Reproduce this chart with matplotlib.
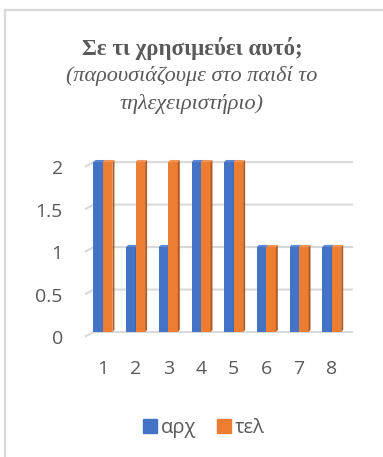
import matplotlib.pyplot as plt
import matplotlib.transforms as mtransforms
from matplotlib.patches import Polygon
from matplotlib.lines import Line2D

categories = ['1', '2', '3', '4', '5', '6', '7', '8']
arx = [2, 1, 1, 2, 2, 1, 1, 1]
tel = [2, 2, 2, 2, 2, 1, 1, 1]
yticks = [0, 0.5, 1, 1.5, 2]
series_names = ['αρχ', 'τελ']

BLUE = '#4472C4'
ORANGE = '#ED7D31'
SIDE = {BLUE: '#2F528F', ORANGE: '#AE5A21'}
TOP = {BLUE: '#5B86D3', ORANGE: '#F19458'}
GRID = '#D9D9D9'
TEXT = '#595959'

W, H = 383, 457
fig = plt.figure(figsize=(W / 100, H / 100), dpi=100)

# chart frame (left and top edges of the Excel chart area)
fig.add_artist(Line2D([5 / W, 5 / W], [0, 1 - 10 / H], color=GRID, lw=1.6))
fig.add_artist(Line2D([5 / W, 1], [1 - 10 / H, 1 - 10 / H], color=GRID, lw=1.6))

fig.text(192 / W, 1 - 48 / H, 'Σε τι χρησιμεύει αυτό;', ha='center', va='center',
         fontsize=16.5, fontweight='bold', color=TEXT, family='Liberation Serif')
fig.text(192 / W, 1 - 76 / H, '(παρουσιάζουμε στο παιδί το', ha='center', va='center',
         fontsize=16, style='italic', color=TEXT, family='Liberation Serif')
fig.text(192 / W, 1 - 104 / H, 'τηλεχειριστήριο)', ha='center', va='center',
         fontsize=16, style='italic', color=TEXT, family='Liberation Serif')

left, right, bottom, top = 85, 353, 332, 157
ax = fig.add_axes([left / W, 1 - bottom / H, (right - left) / W, (bottom - top) / H])
ax.set_xlim(-0.55, 7.65)
ax.set_ylim(0, 2.06)
for s in ax.spines.values():
    s.set_visible(False)

# 3D-ish gridlines: short diagonal then flat back line
d = 0.055
x_back = -0.28
for y in yticks:
    ax.plot([-0.55, x_back, 7.65], [y - d, y, y], color=GRID, lw=1.5, zorder=0,
            clip_on=False, solid_capstyle='butt')

bw = 0.29
dx, dy = 0.06, 0.025
x = list(range(len(categories)))


def draw_series(vals, offset, color):
    ax.bar([i + offset for i in x], vals, width=bw, align='edge', color=color,
           zorder=2, linewidth=0)
    for i, v in zip(x, vals):
        x0 = i + offset
        x1 = x0 + bw
        ax.add_patch(Polygon([(x1, 0), (x1 + dx, dy), (x1 + dx, v + dy), (x1, v)],
                             closed=True, color=SIDE[color], lw=0, zorder=2, clip_on=False))
        ax.add_patch(Polygon([(x0, v), (x0 + dx, v + dy), (x1 + dx, v + dy), (x1, v)],
                             closed=True, color=TOP[color], lw=0, zorder=2, clip_on=False))


draw_series(arx, -bw, BLUE)
draw_series(tel, 0, ORANGE)

ax.set_xticks(x)
ax.set_xticklabels(categories)
ax.set_yticks(yticks)
ax.set_yticklabels(['0', '0.5', '1', '1.5', '2'])
ax.tick_params(axis='both', length=0, labelsize=14, labelcolor=TEXT)
ax.tick_params(axis='y', pad=16)
ax.tick_params(axis='x', pad=20)
for lab in ax.get_yticklabels():
    lab.set_family('Open Sans')
    lab.set_transform(lab.get_transform() +
                      mtransforms.ScaledTranslation(0, -5 / 100, fig.dpi_scale_trans))
for lab in ax.get_xticklabels():
    lab.set_family('Open Sans')

handles = [plt.Rectangle((0, 0), 1, 1, color=BLUE), plt.Rectangle((0, 0), 1, 1, color=ORANGE)]
fig.legend(handles, series_names, loc='center', bbox_to_anchor=(204 / W, 1 - 428 / H),
           ncol=2, frameon=False, handlelength=0.7, handleheight=0.7, handletextpad=0.2,
           columnspacing=1.0, prop={'family': 'Open Sans', 'size': 14.5},
           labelcolor=TEXT)

fig.savefig('out.png', dpi=100)
